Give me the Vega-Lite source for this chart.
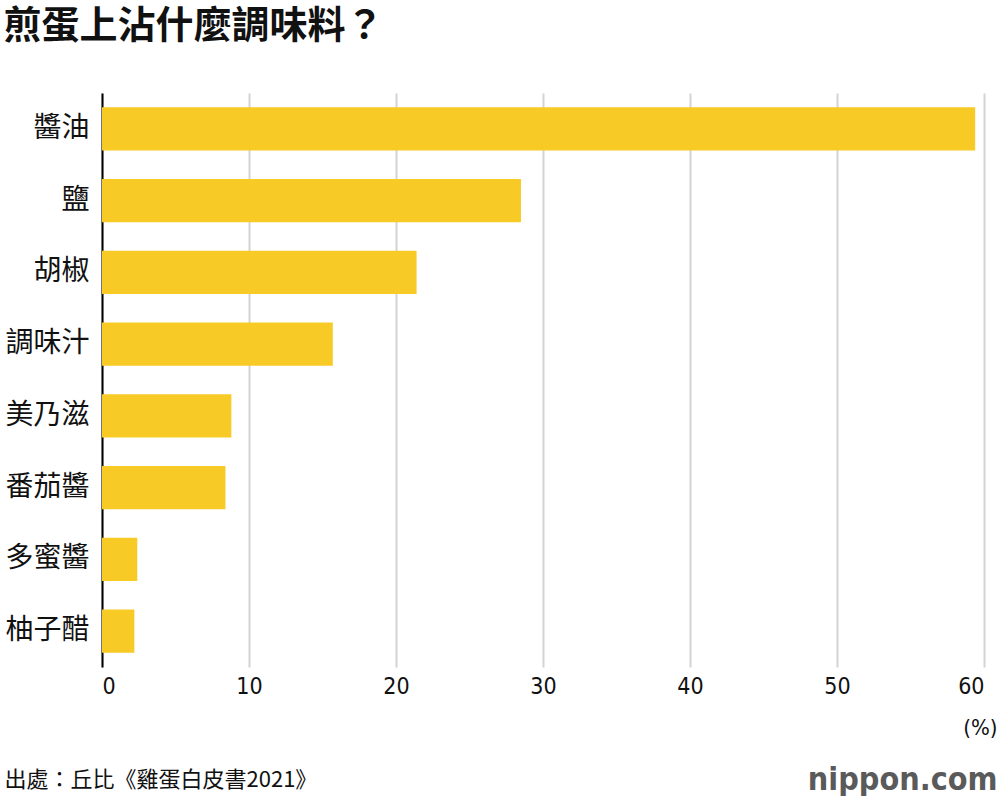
{
  "$schema": "https://vega.github.io/schema/vega-lite/v6.json",
  "autosize": {"type": "none"},
  "padding": {"left": 102, "top": 93, "right": 16, "bottom": 129},
  "width": 882,
  "height": 574,
  "background": "white",
  "config": {
    "view": {"stroke": null},
    "font": "Noto Sans CJK TC"
  },
  "data": {
    "values": [
      {"item": "醬油", "pct": 59.4},
      {"item": "鹽", "pct": 28.5},
      {"item": "胡椒", "pct": 21.4},
      {"item": "調味汁", "pct": 15.7},
      {"item": "美乃滋", "pct": 8.8},
      {"item": "番茄醬", "pct": 8.4},
      {"item": "多蜜醬", "pct": 2.4},
      {"item": "柚子醋", "pct": 2.2}
    ]
  },
  "resolve": {"axis": {"y": "independent", "x": "independent"}},
  "layer": [
    {
      "mark": {"type": "bar", "color": "#F8CA26"},
      "encoding": {
        "y": {
          "field": "item", "type": "nominal", "sort": null,
          "scale": {"paddingInner": 0.4, "paddingOuter": 0.2},
          "axis": {
            "title": "煎蛋上沾什麼調味料？",
            "titleAngle": 0, "titleAlign": "left", "titleBaseline": "top",
            "titleX": -99, "titleY": -86,
            "titleFont": "Noto Sans CJK TC", "titleFontSize": 38, "titleFontWeight": "bold", "titleColor": "#111",
            "labelFont": "Noto Sans CJK TC", "labelFontSize": 28, "labelColor": "#111", "labelPadding": 13,
            "ticks": false, "domainColor": "#000", "domainWidth": 2, "grid": false
          }
        },
        "x": {
          "field": "pct", "type": "quantitative",
          "scale": {"domain": [0, 60], "nice": false},
          "axis": {
            "values": [0, 10, 20, 30, 40, 50, 60],
            "title": "(%)",
            "titleAlign": "right", "titleBaseline": "middle", "titleX": 895, "titleY": 60,
            "titleFont": "DejaVu Sans Condensed, Roboto", "titleFontSize": 22, "titleFontWeight": "normal", "titleColor": "#111",
            "labelFont": "DejaVu Sans Condensed, Roboto", "labelFontSize": 23, "labelColor": "#111", "labelPadding": 8,
            "domain": false, "ticks": false,
            "grid": true, "gridColor": "#d3d3d3", "gridWidth": 2
          }
        }
      }
    },
    {
      "mark": {"type": "bar", "opacity": 0},
      "encoding": {
        "y": {
          "field": "item", "type": "nominal", "sort": null,
          "axis": {
            "orient": "right",
            "title": "nippon.com",
            "titleAngle": 0, "titleAlign": "right", "titleBaseline": "middle",
            "titleX": 13, "titleY": 686,
            "titleFont": "DejaVu Sans Condensed, Roboto", "titleFontSize": 32, "titleFontWeight": "bold", "titleColor": "#5a5a5a",
            "labels": false, "ticks": false, "domain": false, "grid": false
          }
        },
        "x": {
          "field": "pct", "type": "quantitative",
          "axis": {
            "orient": "top",
            "title": "出處：丘比《雞蛋白皮書2021》",
            "titleAngle": 0, "titleAlign": "left", "titleBaseline": "middle",
            "titleX": -98, "titleY": 686,
            "titleFont": "Noto Sans CJK TC", "titleFontSize": 22, "titleFontWeight": "normal", "titleColor": "#111",
            "labels": false, "ticks": false, "domain": false, "grid": false
          }
        }
      }
    }
  ]
}
